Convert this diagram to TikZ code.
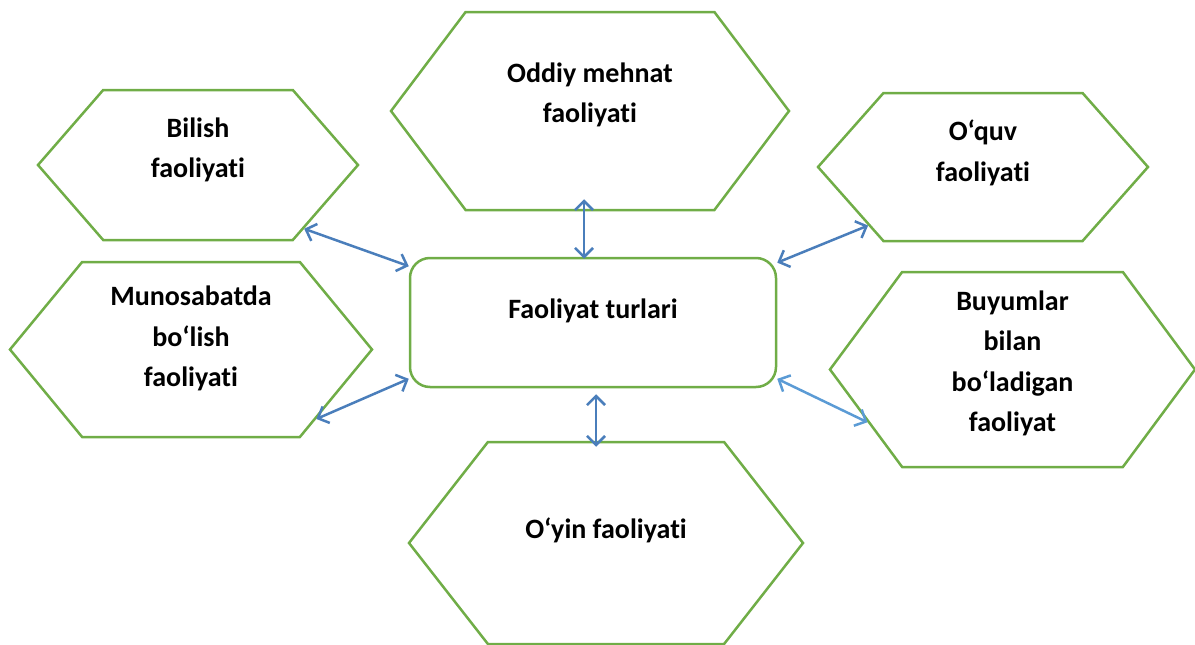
\documentclass[tikz,border=0pt]{standalone}
\usepackage{fontspec}
\setmainfont{Carlito}[Ligatures=NoCommon]
\usetikzlibrary{shapes.symbols,arrows.meta}
\definecolor{mygreen}{RGB}{112,173,71}
\definecolor{myblue}{RGB}{74,126,187}
\definecolor{mylightblue}{RGB}{91,155,213}

\begin{document}
\begin{tikzpicture}[x=1pt, y=-1pt,
    hexa/.style = {shape=signal, signal to=west and east, draw=mygreen,
      line width=2.5pt, inner sep=0pt},
    txt/.style = {align=center, font=\fontsize{28}{40.5}\selectfont\bfseries},
    link/.style = {{Straight Barb[length=9pt,width=18pt]}-{Straight Barb[length=9pt,width=18pt]},
      line width=2.5pt, draw=myblue}]
  \useasboundingbox (0,0) rectangle (1195,645);
  \node[hexa, minimum width=320, minimum height=150, signal pointer angle=98,
    label={[txt, yshift=15]center:Bilish\\faoliyati}] (bilish) at (198,165) {};
  \node[hexa, minimum width=398, minimum height=198, signal pointer angle=106,
    label={[txt, yshift=16]center:Oddiy mehnat\\faoliyati}] (oddiy) at (590,111) {};
  \node[hexa, minimum width=330, minimum height=148, signal pointer angle=97,
    label={[txt, yshift=14]center:O‘quv\\faoliyati}] (oquv) at (983,167) {};
  \node[hexa, minimum width=362, minimum height=175, signal pointer angle=101,
    label={[txt, yshift=11]center:Munosabatda\\bo‘lish\\faoliyati}] (munosabat) at (191,349.5) {};
  \node[hexa, minimum width=365, minimum height=195, signal pointer angle=107,
    label={[txt, yshift=6]center:Buyumlar\\bilan\\bo‘ladigan\\faoliyat}] (buyum) at (1012.5,369.5) {};
  \node[hexa, minimum width=394, minimum height=202, signal pointer angle=104,
    label={[txt, yshift=13]center:O‘yin faoliyati}] (oyin) at (606,543) {};
  \node[draw=mygreen, line width=2.5pt, rounded corners=20pt,
    minimum width=366, minimum height=129,
    label={[txt, yshift=12]center:Faoliyat turlari}] (turlar) at (593,322.5) {};
  % connectors
  \draw[link] (bilish.-31) -- (turlar.163);
  \draw[link] ([xshift=-6,yshift=12]oddiy.south) -- ([xshift=-9,yshift=-2]turlar.north);
  \draw[link] (oquv.207.6) -- (turlar.18);
  \draw[link] (munosabat.-29.3) -- (turlar.197);
  \draw[link, draw=mylightblue] (buyum.200) -- (turlar.-17);
  \draw[link] ([xshift=3,yshift=-6]turlar.south) -- ([xshift=-10,yshift=-6]oyin.north);
\end{tikzpicture}
\end{document}
